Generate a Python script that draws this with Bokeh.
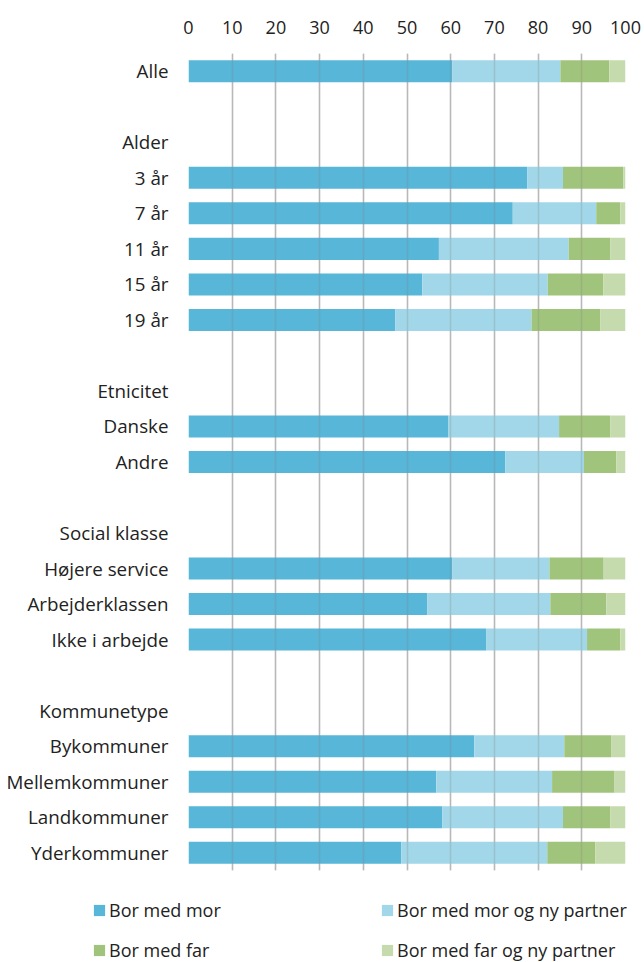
from bokeh.plotting import figure
from bokeh.layouts import column
from bokeh.models import ColumnDataSource, FactorRange, Range1d, FixedTicker, Legend, LegendItem, Grid
from bokeh.embed import file_html
from bokeh.resources import INLINE

rows = ["Alle", " ", "Alder", "3 år", "7 år", "11 år", "15 år", "19 år", "  ",
        "Etnicitet", "Danske", "Andre", "   ", "Social klasse", "Højere service",
        "Arbejderklassen", "Ikke i arbejde", "    ", "Kommunetype", "Bykommuner",
        "Mellemkommuner", "Landkommuner", "Yderkommuner"]

categories = ["Alle", "3 år", "7 år", "11 år", "15 år", "19 år", "Danske", "Andre",
              "Højere service", "Arbejderklassen", "Ikke i arbejde", "Bykommuner",
              "Mellemkommuner", "Landkommuner", "Yderkommuner"]
mor = [60.4, 77.5, 74.2, 57.3, 53.5, 47.3, 59.5, 72.5, 60.4, 54.6, 68.1, 65.4, 56.7, 58.1, 48.7]
mor_partner = [24.7, 8.2, 19.1, 29.7, 28.7, 31.2, 25.3, 18.0, 22.2, 28.2, 23.1, 20.6, 26.5, 27.6, 33.4]
far = [11.2, 13.8, 5.5, 9.5, 12.7, 15.7, 11.7, 7.4, 12.4, 12.8, 7.6, 10.7, 14.3, 10.8, 11.0]
far_partner = [3.7, 0.5, 1.2, 3.5, 5.1, 5.8, 3.5, 2.1, 5.0, 4.4, 1.2, 3.3, 2.5, 3.5, 6.9]

series = ["Bor med mor", "Bor med mor og ny partner", "Bor med far", "Bor med far og ny partner"]
colors = ["#58b6d8", "#a1d7e8", "#a1c47c", "#c5dbad"]
ticks = [0, 10, 20, 30, 40, 50, 60, 70, 80, 90, 100]

source = ColumnDataSource(dict(cat=categories, s0=mor, s1=mor_partner, s2=far, s3=far_partner))

FONT = "Open Sans"
TEXT = "#222222"

p = figure(width=644, height=875, y_range=FactorRange(factors=rows[::-1]),
           x_range=Range1d(0, 100), x_axis_location="above",
           output_backend="svg", toolbar_location=None,
           min_border_left=188, min_border_right=19, min_border_top=53, min_border_bottom=5)
p.outline_line_color = None
p.frame_align = False

renderers = p.hbar_stack(["s0", "s1", "s2", "s3"], y="cat", height=0.62, color=colors,
                         line_color=None, source=source)

p.xaxis.ticker = FixedTicker(ticks=ticks)
p.xaxis.axis_line_color = None
p.xaxis.major_tick_line_color = None
p.xaxis.minor_tick_line_color = None
p.xaxis.major_label_standoff = 14
p.xaxis.major_label_text_font = FONT
p.xaxis.major_label_text_font_size = "18px"
p.xaxis.major_label_text_color = TEXT

p.yaxis.axis_line_color = None
p.yaxis.major_tick_line_color = None
p.yaxis.minor_tick_line_color = None
p.yaxis.major_label_standoff = 14
p.yaxis.major_label_text_font = FONT
p.yaxis.major_label_text_font_size = "18.8px"
p.yaxis.major_label_text_color = TEXT

p.ygrid.grid_line_color = None
p.xgrid.grid_line_color = "#cbcbcb"
p.xgrid.grid_line_width = 1.5

overlay_grid = Grid(dimension=0, ticker=FixedTicker(ticks=ticks), grid_line_color="#808080",
                    grid_line_alpha=0.25, grid_line_width=1.5, level="overlay")
p.add_layout(overlay_grid)

# legend strip (swatch renderers sit outside the visible range; only the legend shows)
p2 = figure(width=644, height=87, output_backend="svg", toolbar_location=None,
            min_border=0, x_range=Range1d(0, 1), y_range=Range1d(0, 1))
p2.frame_align = False
p2.axis.visible = False
p2.grid.grid_line_color = None
p2.outline_line_color = None
dummies = [p2.rect(x=[-10], y=[-10], width=1, height=1, fill_color=c, line_color=None)
           for c in colors]

def make_legend(idx, x):
    return Legend(items=[LegendItem(label=series[i], renderers=[dummies[i]]) for i in idx],
                  location=(x, 0), orientation="vertical",
                  padding=0, margin=0, spacing=16, label_height=18,
                  glyph_width=14, glyph_height=14, label_standoff=3,
                  border_line_color=None, background_fill_alpha=0,
                  label_text_font=FONT, label_text_font_size="18px",
                  label_text_color=TEXT)

p2.add_layout(make_legend([0, 2], 92))
p2.add_layout(make_legend([1, 3], 380))

open("out.html", "w").write(file_html(column(p, p2, spacing=0), INLINE))
